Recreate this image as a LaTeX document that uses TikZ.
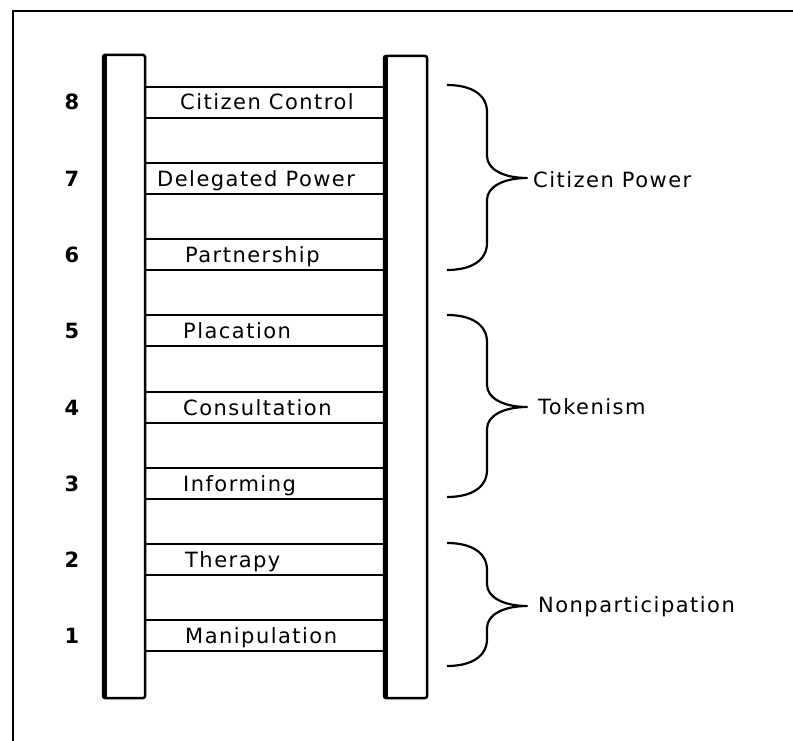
\documentclass[tikz,border=0pt]{standalone}
\usepackage{fontspec}
\setmainfont[LetterSpace=7]{DejaVu Sans}
\begin{document}
\begin{tikzpicture}[x = 1pt, y = -1pt, font = \fontsize{21}{23}\selectfont,
        rail/.style = {line width = 2.5pt, rounded corners = 2pt},
        rung/.style = {line width = 2.5pt},
        curly/.style = {line width = 2.2pt, line join = round},
        rung label/.style = {anchor = base west, inner sep = 0pt},
        level/.style = {anchor = base, inner sep = 0pt, font = \fontsize{21}{23}\selectfont\bfseries}]
    \useasboundingbox (0,0) rectangle (793,741);

    % frame
    \draw[line width = 1.5pt] (13,741) -- (13,11) -- (793,11);

    % rails
    \draw[rail] (103,55) rectangle (145,698);
    \draw[line width = 4.5pt] (104.5,56) -- (104.5,697);
    \draw[rail] (384,56) rectangle (427,698);
    \draw[line width = 5pt] (385.5,57) -- (385.5,697);

    % rungs
    \draw[rung] (145,87) -- (384,87) (145,118) -- (384,118);
    \draw[rung] (145,163) -- (384,163) (145,194) -- (384,194);
    \draw[rung] (145,239) -- (384,239) (145,270) -- (384,270);
    \draw[rung] (145,315) -- (384,315) (145,346) -- (384,346);
    \draw[rung] (145,392) -- (384,392) (145,423) -- (384,423);
    \draw[rung] (145,468) -- (384,468) (145,499) -- (384,499);
    \draw[rung] (145,544) -- (384,544) (145,575) -- (384,575);
    \draw[rung] (145,620) -- (384,620) (145,651) -- (384,651);

    \node[rung label] (control) at (180,110) {Citizen Control};
    \node[rung label] (delegated) at (157,186) {Delegated Power};
    \node[rung label] (partner) at (185,262) {Partnership};
    \node[rung label] (placate) at (183,338) {Placation};
    \node[rung label] (consult) at (183,415) {Consultation};
    \node[rung label] (inform) at (183,491) {Informing};
    \node[rung label] (therapy) at (185,567) {Therapy};
    \node[rung label] (manip) at (185,643) {Manipulation};

    \node[level] (l8) at (72,110) {8};
    \node[level] (l7) at (72,186) {7};
    \node[level] (l6) at (72,262) {6};
    \node[level] (l5) at (72,338) {5};
    \node[level] (l4) at (72,415) {4};
    \node[level] (l3) at (72,491) {3};
    \node[level] (l2) at (72,567) {2};
    \node[level] (l1) at (72,643) {1};

    % braces
    \draw[curly] (447,85) .. controls (472,85) and (487,95) .. (487,112) -- (487,156)
        .. controls (487,170) and (505,178) .. (527,178) coordinate (cptip)
        .. controls (505,178) and (487,186) .. (487,200) -- (487,243)
        .. controls (487,260) and (472,270) .. (447,270);
    \draw[curly] (447,315) .. controls (472,315) and (487,325) .. (487,342) -- (487,385)
        .. controls (487,399) and (505,407) .. (527,407) coordinate (toktip)
        .. controls (505,407) and (487,415) .. (487,429) -- (487,470)
        .. controls (487,487) and (472,497) .. (447,497);
    \draw[curly] (447,543) .. controls (472,543) and (487,553) .. (487,570) -- (487,584)
        .. controls (487,598) and (505,606) .. (527,606) coordinate (nptip)
        .. controls (505,606) and (487,614) .. (487,628) -- (487,639)
        .. controls (487,656) and (472,666) .. (447,666);

    \node[rung label] (citpower) at (533,187) {Citizen Power};
    \node[rung label] (token) at (538,414) {Tokenism};
    \node[rung label] (nonpart) at (538,612) {Nonparticipation};
\end{tikzpicture}
\end{document}
